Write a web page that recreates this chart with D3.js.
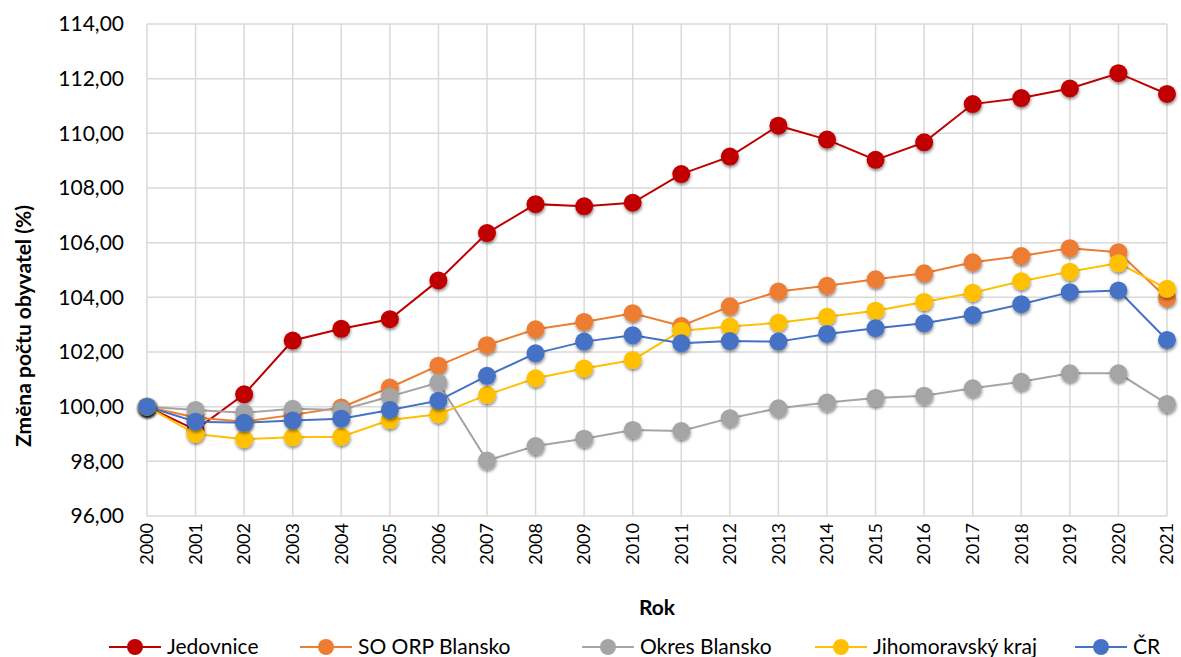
<!DOCTYPE html>
<html>
<head>
<meta charset="utf-8">
<script src="https://cdn.jsdelivr.net/npm/d3@7"></script>
<style>
  body { margin: 0; background: #fff; }
  svg { font-family: Lato, "Open Sans", sans-serif; }
</style>
</head>
<body>
<div id="chart"></div>
<script>
// roky
let years = [2000,2001,2002,2003,2004,2005,2006,2007,2008,2009,2010,2011,2012,2013,2014,2015,2016,2017,2018,2019,2020,2021];

// hodnoty (%)
let jedovnice = [100.00,99.15,100.45,102.42,102.85,103.20,104.62,106.35,107.41,107.33,107.46,108.51,109.15,110.28,109.77,109.03,109.67,111.07,111.29,111.64,112.20,111.44];
let soOrpBlansko = [100.00,99.60,99.45,99.70,99.97,100.70,101.50,102.25,102.83,103.10,103.42,102.95,103.67,104.21,104.42,104.66,104.88,105.28,105.51,105.80,105.65,103.97];
let okresBlansko = [100.00,99.88,99.78,99.92,99.88,100.37,100.88,98.03,98.56,98.83,99.15,99.11,99.58,99.94,100.15,100.32,100.40,100.67,100.91,101.22,101.22,100.10];
let jmk = [100.00,99.00,98.81,98.88,98.90,99.51,99.72,100.43,101.04,101.40,101.71,102.78,102.93,103.07,103.29,103.51,103.83,104.17,104.59,104.94,105.25,104.31];
let cr = [100.00,99.45,99.41,99.49,99.56,99.88,100.22,101.13,101.95,102.38,102.61,102.32,102.40,102.38,102.66,102.87,103.05,103.35,103.75,104.19,104.25,102.44];

let seriesNames = ["Jedovnice","SO ORP Blansko","Okres Blansko","Jihomoravský kraj","ČR"];
let seriesValues = [jedovnice, soOrpBlansko, okresBlansko, jmk, cr];
let colors = ["#C00000","#ED7D31","#A5A5A5","#FFC000","#4472C4"];
let yTicks = [96,98,100,102,104,106,108,110,112,114];

let width = 1181;
let height = 657;
let margin = {"top": 24, "bottom": 141, "right": 14, "left": 147};

let svg = d3.select("#chart")
  .append("svg")
  .attr("width", width)
  .attr("height", height);

// stín značek
let defs = svg.append("defs");
defs.append("filter")
  .attr("id", "shadow")
  .attr("x", "-50%").attr("y", "-50%")
  .attr("width", "200%").attr("height", "200%")
  .append("feDropShadow")
  .attr("dx", 0.5).attr("dy", 2)
  .attr("stdDeviation", 1.6)
  .attr("flood-color", "#000")
  .attr("flood-opacity", 0.45);

let xScale = d3.scalePoint()
  .domain(years)
  .range([margin.left, width - margin.right]);

let yScale = d3.scaleLinear()
  .domain([96, 114])
  .range([height - margin.bottom, margin.top]);

// mřížka
svg.append("g")
  .selectAll("line.h")
  .data(yTicks)
  .enter()
  .append("line")
  .attr("x1", margin.left)
  .attr("x2", width - margin.right)
  .attr("y1", d => yScale(d))
  .attr("y2", d => yScale(d))
  .attr("stroke", "#D9D9D9")
  .attr("stroke-width", 1.5);

svg.append("g")
  .selectAll("line.v")
  .data(years)
  .enter()
  .append("line")
  .attr("x1", d => xScale(d))
  .attr("x2", d => xScale(d))
  .attr("y1", margin.top)
  .attr("y2", height - margin.bottom)
  .attr("stroke", "#D9D9D9")
  .attr("stroke-width", 1.5);

// osa y
let axisy = d3.axisLeft(yScale)
  .tickValues(yTicks)
  .tickSize(0)
  .tickPadding(23)
  .tickFormat(d => d3.format(".2f")(d).replace(".", ","));

let gy = svg.append("g")
  .attr("transform", "translate(" + margin.left + ",0)")
  .call(axisy);
gy.select(".domain").remove();
gy.selectAll("text")
  .attr("font-size", "21px")
  .attr("fill", "#000")
  .attr("font-family", "Lato, sans-serif");

// osa x
svg.append("g")
  .selectAll("text")
  .data(years)
  .enter()
  .append("text")
  .attr("transform", d => "translate(" + xScale(d) + "," + (height - margin.bottom + 7) + ") rotate(-90)")
  .attr("text-anchor", "end")
  .attr("dy", "0.35em")
  .attr("font-size", "18px")
  .attr("fill", "#000")
  .text(d => d);

// popisky os
svg.append("text")
  .attr("x", (width - margin.left - margin.right) / 2 + margin.left)
  .attr("y", 615)
  .attr("text-anchor", "middle")
  .attr("font-size", "21px")
  .attr("font-weight", "700")
  .text("Rok");

svg.append("text")
  .attr("transform", "translate(31,326) rotate(-90)")
  .attr("text-anchor", "middle")
  .attr("font-size", "21px")
  .attr("font-weight", "700")
  .text("Změna počtu obyvatel (%)");

// řady
let line = d3.line()
  .x((d, i) => xScale(years[i]))
  .y(d => yScale(d));

seriesValues.forEach(function(vals, k) {
  let g = svg.append("g");
  g.append("path")
    .datum(vals)
    .attr("d", line)
    .attr("fill", "none")
    .attr("stroke", colors[k])
    .attr("stroke-width", 2);
  g.selectAll("circle")
    .data(vals)
    .enter()
    .append("circle")
    .attr("cx", (d, i) => xScale(years[i]))
    .attr("cy", d => yScale(d))
    .attr("r", 9)
    .attr("fill", colors[k])
    .attr("filter", "url(#shadow)");
});

// legenda
let legendTextX = [167, 358, 640, 873, 1133];
let legend = svg.append("g")
  .selectAll("g")
  .data(seriesNames)
  .enter()
  .append("g")
  .attr("transform", (d, i) => "translate(" + legendTextX[i] + ",647)");

legend.append("line")
  .attr("x1", -58).attr("x2", -6)
  .attr("y1", 0).attr("y2", 0)
  .attr("stroke", (d, i) => colors[i])
  .attr("stroke-width", 2);
legend.append("circle")
  .attr("cx", -32).attr("cy", 0)
  .attr("r", 8)
  .attr("fill", (d, i) => colors[i]);
legend.append("text")
  .attr("x", 0)
  .attr("y", 0)
  .attr("dy", "0.35em")
  .attr("font-size", "21px")
  .text(d => d);
</script>
</body>
</html>
